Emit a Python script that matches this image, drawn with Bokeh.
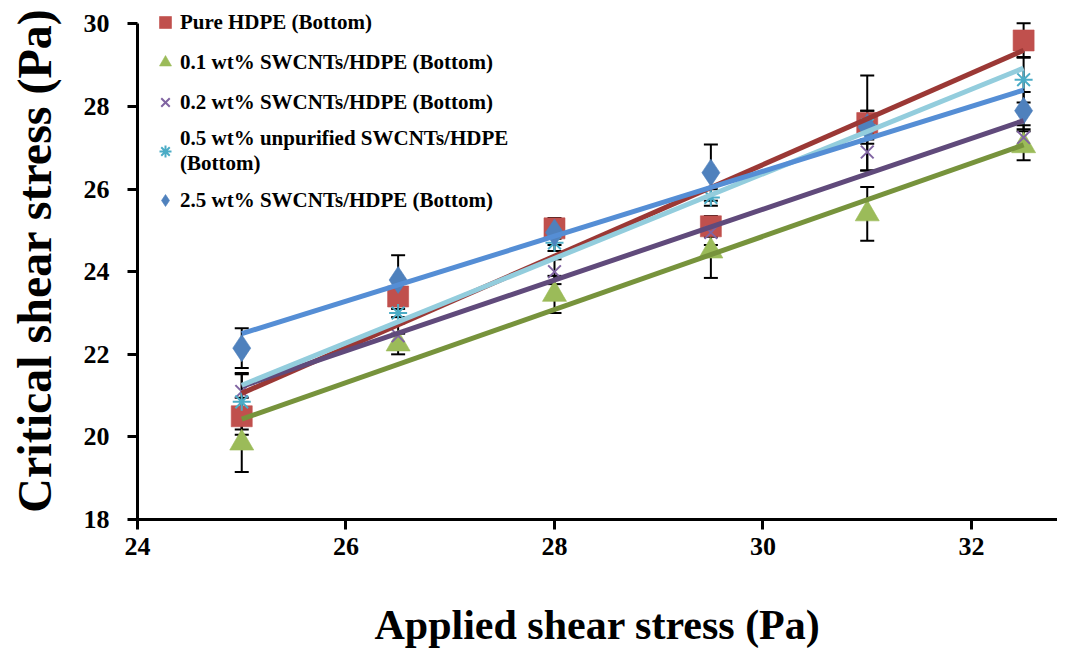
import numpy as np
from bokeh.plotting import figure
from bokeh.models import ColumnDataSource, Whisker, Legend, LegendItem, Range1d, TeeHead
from bokeh.embed import file_html
from bokeh.resources import INLINE

applied = [25.0, 26.5, 28.0, 29.5, 31.0, 32.5]

names = [
    "Pure HDPE (Bottom)",
    "0.1 wt% SWCNTs/HDPE (Bottom)",
    "0.2 wt% SWCNTs/HDPE (Bottom)",
    "0.5 wt% unpurified SWCNTs/HDPE\n(Bottom)",
    "2.5 wt% SWCNTs/HDPE (Bottom)",
]

pure = [20.5, 23.4, 25.05, 25.1, 27.6, 29.6]
wt01 = [19.85, 22.25, 23.45, 24.5, 25.4, 27.05]
wt02 = [21.1, 22.45, 24.0, 24.95, 26.9, 27.25]
wt05 = [20.85, 23.0, 24.7, 25.8, 27.55, 28.65]
wt25 = [22.15, 23.8, 24.95, 26.4, 27.5, 27.9]

err_pure = [0.45, 0.4, 0.25, 0.25, 1.15, 0.42]
err_01 = [0.7, 0.25, 0.45, 0.65, 0.65, 0.35]
err_02 = [0.45, 0.3, 0.3, 0.3, 0.45, 0.3]
err_05 = [0.67, 0.1, 0.2, 0.2, 0.35, 0.55]
err_25 = [0.48, 0.6, 0.3, 0.68, 0.4, 0.45]

series = [pure, wt01, wt02, wt05, wt25]
errors = [err_pure, err_01, err_02, err_05, err_25]
markers = ["square", "triangle", "x", "asterisk", "diamond"]
marker_sizes = [21, 24, 18, 18, 27]
marker_colors = ["#C0504D", "#9BBB59", "#8064A2", "#4BACC6", "#4F81BD"]
line_colors = ["#9B3835", "#77933C", "#604A7B", "#93CDDD", "#558ED5"]

FONT = "Liberation Serif"

p = figure(width=1057, height=650, output_backend="svg", toolbar_location=None,
           x_range=Range1d(24, 32.825), y_range=Range1d(18, 30.544),
           min_border_left=137, min_border_bottom=119, min_border_top=1,
           min_border_right=0)
p.outline_line_color = None
p.grid.visible = False

# error bars
for ys, es in zip(series, errors):
    ys = np.array(ys)
    es = np.array(es)
    src = ColumnDataSource(dict(x=applied, lo=ys - es, hi=ys + es))
    w = Whisker(base="x", upper="hi", lower="lo", source=src, line_color="black", line_width=2,
                upper_head=TeeHead(size=14, line_color="black", line_width=2),
                lower_head=TeeHead(size=14, line_color="black", line_width=2),
                level="underlay")
    p.add_layout(w)

items = []
renderers = []
for ys, m, s, c in zip(series, markers, marker_sizes, marker_colors):
    src = ColumnDataSource(dict(x=applied, y=ys))
    if m in ("x", "asterisk"):
        r = p.scatter("x", "y", source=src, marker=m, size=s, line_color=c, line_width=2, fill_color=None)
    else:
        r = p.scatter("x", "y", source=src, marker=m, size=s, fill_color=c, line_color=c, line_alpha=0.6)
    renderers.append(r)

# linear trendlines computed from the data
xa = np.array(applied)
for ys, lc in zip(series, line_colors):
    k, b = np.polyfit(xa, np.array(ys), 1)
    ends = np.array([applied[0], applied[-1]])
    p.line(ends, k * ends + b, line_color=lc, line_width=5)

for n, r in zip(names, renderers):
    items.append(LegendItem(label=n, renderers=[r]))

legend = Legend(items=items, location=(13, 303), background_fill_alpha=0, border_line_color=None,
                label_text_font=FONT, label_text_font_style="bold", label_text_font_size="21px",
                label_text_color="black",
                glyph_width=30, glyph_height=32, spacing=8, padding=4, label_standoff=0,
                label_text_line_height=1.1)
p.add_layout(legend, "center")

for ax in (p.xaxis[0], p.yaxis[0]):
    ax.axis_line_width = 3
    ax.axis_line_color = "black"
    ax.major_tick_line_width = 3
    ax.major_tick_line_color = "black"
    ax.major_tick_out = 10
    ax.major_tick_in = 0
    ax.minor_tick_line_color = None
    ax.major_label_text_font = FONT
    ax.major_label_text_font_style = "bold"
    ax.major_label_text_font_size = "26px"
    ax.major_label_text_color = "black"
    ax.axis_label_text_font = FONT
    ax.axis_label_text_font_style = "bold"
    ax.axis_label_text_color = "black"

p.yaxis.bounds = (18, 30)
p.xaxis.ticker = [24, 26, 28, 30, 32]
p.yaxis.ticker = [18, 20, 22, 24, 26, 28, 30]
p.xaxis.axis_label = "Applied shear stress (Pa)"
p.yaxis.axis_label = "Critical shear stress (Pa)"
p.xaxis.axis_label_text_font_size = "42px"
p.yaxis.axis_label_text_font_size = "48px"
p.xaxis.major_label_standoff = 8
p.yaxis.major_label_standoff = 18
p.xaxis.axis_label_standoff = 44
p.yaxis.axis_label_standoff = 20

open("out.html", "w").write(file_html(p, INLINE))
